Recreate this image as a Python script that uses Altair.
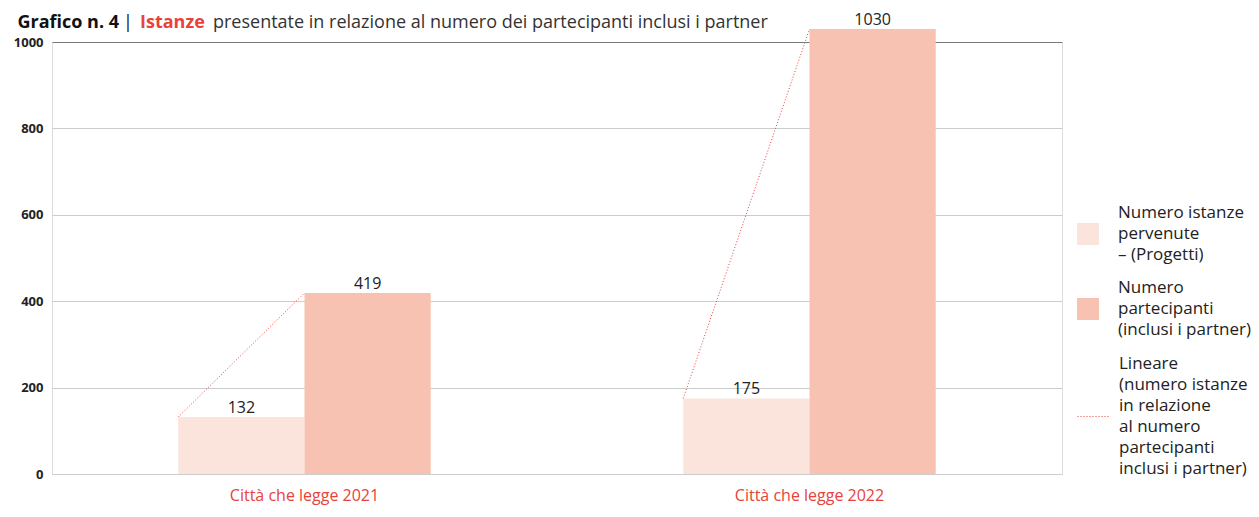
import altair as alt
import pandas as pd

# ---- data ----
categories = ["Città che legge 2021", "Città che legge 2022"]
series = ["Numero istanze\npervenute\n– (Progetti)",
          "Numero\npartecipanti\n(inclusi i partner)"]
istanze = [132, 175]
partecipanti = [419, 1030]
trend_label = "Lineare\n(numero istanze\nin relazione\nal numero\npartecipanti\ninclusi i partner)"
y_ticks = [0, 200, 400, 600, 800, 1000]

title_bold = "Grafico n. 4"
title_sep = "|"
title_red = "Istanze"
title_rest = "presentate in relazione al numero dei partecipanti inclusi i partner"

LIGHT = "#fbe4dc"
DARK = "#f8c2b2"
RED = "#e8423a"
FONT = "Open Sans"

rows = []
for i, (c, a, b) in enumerate(zip(categories, istanze, partecipanti)):
    rows.append({"anno": c, "serie": series[0], "valore": a, "trend": trend_label, "ci": i, "si": 0})
    rows.append({"anno": c, "serie": series[1], "valore": b, "trend": trend_label, "ci": i, "si": 1})
df = pd.DataFrame(rows)

x_enc = alt.X("anno:N", sort=categories,
              scale=alt.Scale(paddingInner=0, paddingOuter=0),
              axis=alt.Axis(title=None, domain=False, ticks=False, labelAngle=0,
                            labelColor=RED, labelFont=FONT, labelFontSize=16,
                            labelPadding=13))
xoff = alt.XOffset("serie:N", sort=series, scale=alt.Scale(paddingOuter=1, paddingInner=0))
y_enc = alt.Y("valore:Q",
              scale=alt.Scale(domain=[0, 1000], nice=False),
              axis=alt.Axis(title=None, values=y_ticks, format="d", domain=False, ticks=False,
                            labelFont=FONT, labelFontWeight="bold", labelFontSize=13,
                            labelColor="#222", labelPadding=9,
                            gridColor=alt.condition("datum.value === 1000",
                                                    alt.value("#7a7a7a"), alt.value("#cccccc")),
                            gridWidth=1))

base = alt.Chart(df)

# legend symbols shifted down so they sit beside the middle of multi-line labels
SQUARE_PATH = "M-1,0.909H1V2.909H-1Z"
STROKE_PATH = "M-1,3.387H1"

bars = base.mark_bar().encode(
    x=x_enc, xOffset=xoff, y=y_enc,
    color=alt.Color("serie:N", sort=series,
                    scale=alt.Scale(domain=series, range=[LIGHT, DARK]),
                    legend=alt.Legend(orient="none", legendX=1025, legendY=160,
                                      title=None, padding=0,
                                      symbolType=SQUARE_PATH, symbolSize=484,
                                      symbolStrokeWidth=0, symbolOpacity=1,
                                      labelExpr="split(datum.label, '\\n')",
                                      labelFont=FONT, labelFontSize=17,
                                      labelColor="#222", labelOffset=19,
                                      labelLimit=400, rowPadding=14)),
)

labels = base.mark_text(baseline="alphabetic", dy=-4, font=FONT, fontSize=16,
                        color="#222").encode(
    x=alt.X("anno:N", sort=categories), xOffset=alt.XOffset("serie:N", sort=series),
    y="valore:Q", text="valore:Q",
)

bar_layer = alt.layer(bars, labels)

# trend segments: from the left edge of each light bar to the left edge of the dark bar
trend = base.transform_calculate(
    pos="datum.ci * 4 + datum.si + 1"
).mark_line(strokeDash=[1, 2], strokeWidth=1).encode(
    x=alt.X("pos:Q", scale=alt.Scale(domain=[0, 8], nice=False, zero=True), axis=None),
    y="valore:Q", detail="anno:N", order=alt.Order("pos:Q"),
    stroke=alt.Stroke("trend:N",
                      scale=alt.Scale(domain=[trend_label], range=[RED]),
                      legend=alt.Legend(orient="none", legendX=1025, legendY=306,
                                        title=None, padding=0,
                                        symbolType=STROKE_PATH, symbolSize=961,
                                        symbolStrokeWidth=1, symbolDash=[1, 2],
                                        symbolStrokeColor=RED, symbolOpacity=1,
                                        symbolFillColor="transparent",
                                        labelExpr="split(datum.label, '\\n')",
                                        labelFont=FONT, labelFontSize=17,
                                        labelColor="#222", labelOffset=10,
                                        labelLimit=400)),
)

tdf = pd.DataFrame({"k": [0]})
tb = alt.Chart(tdf)
TY = -14
t1 = tb.mark_text(align="right", baseline="alphabetic", font=FONT, fontSize=18,
                  fontWeight="bold", color="#111").encode(
    x=alt.value(67), y=alt.value(TY), text=alt.value(title_bold))
t2 = tb.mark_text(align="center", baseline="alphabetic", font=FONT, fontSize=18,
                  color="#111").encode(
    x=alt.value(76), y=alt.value(TY), text=alt.value(title_sep))
t3 = tb.mark_text(align="left", baseline="alphabetic", font=FONT, fontSize=18,
                  fontWeight="bold", color=RED).encode(
    x=alt.value(88), y=alt.value(TY), text=alt.value(title_red))
t4 = tb.mark_text(align="left", baseline="alphabetic", font=FONT, fontSize=18,
                  color="#333").encode(
    x=alt.value(161), y=alt.value(TY), text=alt.value(title_rest))

chart = alt.layer(bar_layer, trend, t1, t2, t3, t4).resolve_scale(
    x="independent"
).properties(
    width=1010, height=432,
    autosize=alt.AutoSizeParams(type="none"),
    padding={"left": 44, "top": 34, "right": 189, "bottom": 35},
).configure_view(stroke=None).configure(
    background="white",
    style={"guide-label": {"lineHeight": 21}},
)

chart.save("out.html", embed_options={"renderer": "svg", "actions": False})
